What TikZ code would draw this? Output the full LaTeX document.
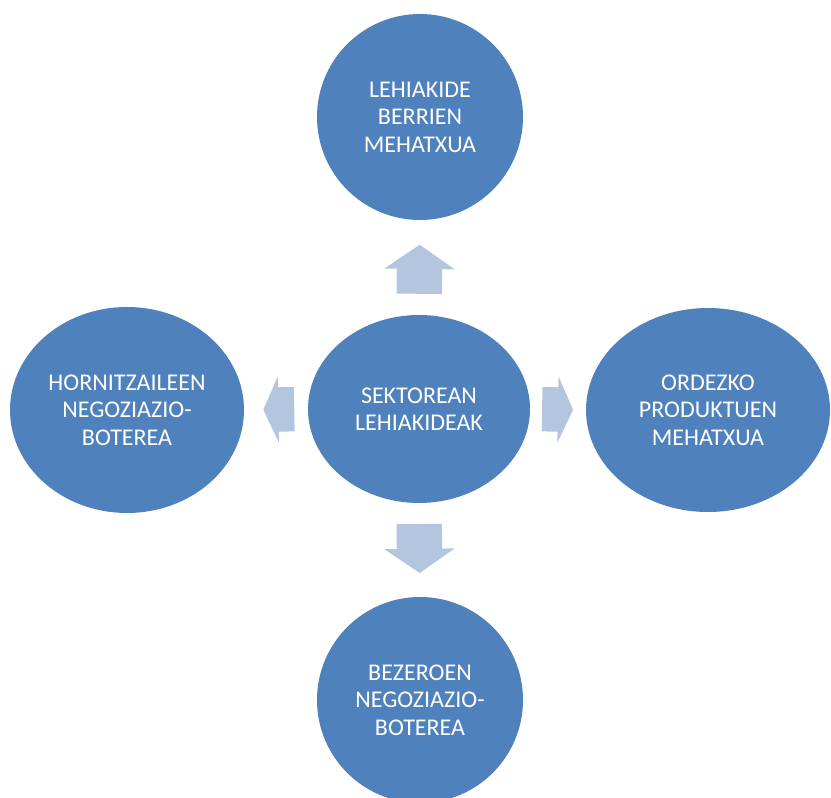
\documentclass[tikz,border=0pt]{standalone}
\usepackage{fontspec}
\setmainfont{Carlito}
\usepackage{tikz}
\usetikzlibrary{shapes.geometric, shapes.arrows}
\definecolor{ForceBlue}{RGB}{79,129,189}
\definecolor{ForcePale}{RGB}{180,197,224}

\begin{document}
\begin{tikzpicture}[x=1pt, y=1pt,
          bub/.style={ellipse, fill=ForceBlue, text=white, inner sep=0pt,
                      align=center, font=\fontsize{24}{27.5}\selectfont},
          vbarr/.style={single arrow, fill=ForcePale, inner xsep=0pt, inner ysep=22.5pt,
                        single arrow head extend=12.5pt, single arrow tip angle=111,
                        single arrow head indent=0pt, minimum height=49pt,
                        sloped, allow upside down, anchor=tail, pos=0.22},
          hbarr/.style={single arrow, fill=ForcePale, inner xsep=0pt, inner ysep=22pt,
                        single arrow head extend=11pt, single arrow tip angle=131,
                        single arrow head indent=0pt, minimum height=31pt,
                        sloped, allow upside down, anchor=tail, pos=0.21}
        ]
        \useasboundingbox (0,0) rectangle (831,798);

        \node[bub, minimum width=222pt, minimum height=188pt]
              (hub) at (419,389) {SEKTOREAN\\LEHIAKIDEAK};

        \node[bub, minimum width=206pt, minimum height=206pt]
              (newcomers) at (420,681) {LEHIAKIDE\\BERRIEN\\MEHATXUA};

        \node[bub, minimum width=234pt, minimum height=206pt]
              (suppliers) at (127,388) {HORNITZAILEEN\\NEGOZIAZIO-\\BOTEREA};

        \node[bub, minimum width=244pt, minimum height=204pt]
              (substitutes) at (708,388) {ORDEZKO\\PRODUKTUEN\\MEHATXUA};

        \node[bub, minimum width=206pt, minimum height=206pt]
              (buyers) at (420,98) {BEZEROEN\\NEGOZIAZIO-\\BOTEREA};

        \path (hub.north) -- (newcomers.south)   node[vbarr] (upArr) {};
        \path (hub.south) -- (buyers.north)      node[vbarr] (downArr) {};
        \path (hub.west)  -- (suppliers.east)    node[hbarr] (leftArr) {};
        \path (hub.east)  -- (substitutes.west)  node[hbarr] (rightArr) {};
      \end{tikzpicture}
\end{document}
